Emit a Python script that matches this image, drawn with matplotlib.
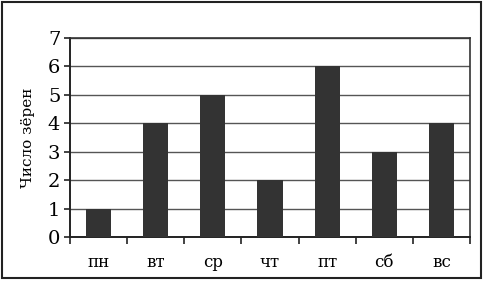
import matplotlib.pyplot as plt
import numpy as np
from matplotlib.patches import Rectangle

days = ['пн', 'вт', 'ср', 'чт', 'пт', 'сб', 'вс']
grains = [1, 4, 5, 2, 6, 3, 4]

plt.rcParams['font.family'] = ['DejaVu Serif']

fig = plt.figure(figsize=(4.84, 2.83), dpi=100)
ax = fig.add_axes([70 / 484, 1 - 237 / 283, 400 / 484, (237 - 38) / 283])

x = np.arange(len(days))
ax.bar(x, grains, width=0.44, color='#333333', zorder=3)

ax.set_xlim(-0.5, len(days) - 0.5)
ax.set_ylim(0, 7)
ax.set_yticks(range(0, 8))
ax.yaxis.grid(True, color='#555555', linewidth=1, zorder=0)

# ticks on category boundaries, labels at centres
ax.set_xticks(np.arange(-0.5, len(days)), minor=False)
ax.set_xticklabels([])
ax.set_xticks(x, minor=True)
ax.set_xticklabels(days, minor=True, fontsize=12)
ax.tick_params(axis='x', which='major', direction='out', length=5, width=1.2, color='#222222')
ax.tick_params(axis='x', which='minor', length=0, pad=12)
ax.tick_params(axis='y', direction='out', length=4, width=1.2, labelsize=14, pad=3, color='#222222')

for s in ['left', 'bottom']:
    ax.spines[s].set_linewidth(1.4)
    ax.spines[s].set_color('#222222')
for s in ['top', 'right']:
    ax.spines[s].set_linewidth(1.2)
    ax.spines[s].set_color('#333333')

ax.set_ylabel('Число зёрен', fontsize=11, labelpad=9)

# frame round the whole picture
fig.patches.append(Rectangle((2 / 484, 5 / 283), 479 / 484, 276 / 283, transform=fig.transFigure,
                             fill=False, edgecolor='#222222', linewidth=1.5))

fig.savefig('out.png', dpi=100)
